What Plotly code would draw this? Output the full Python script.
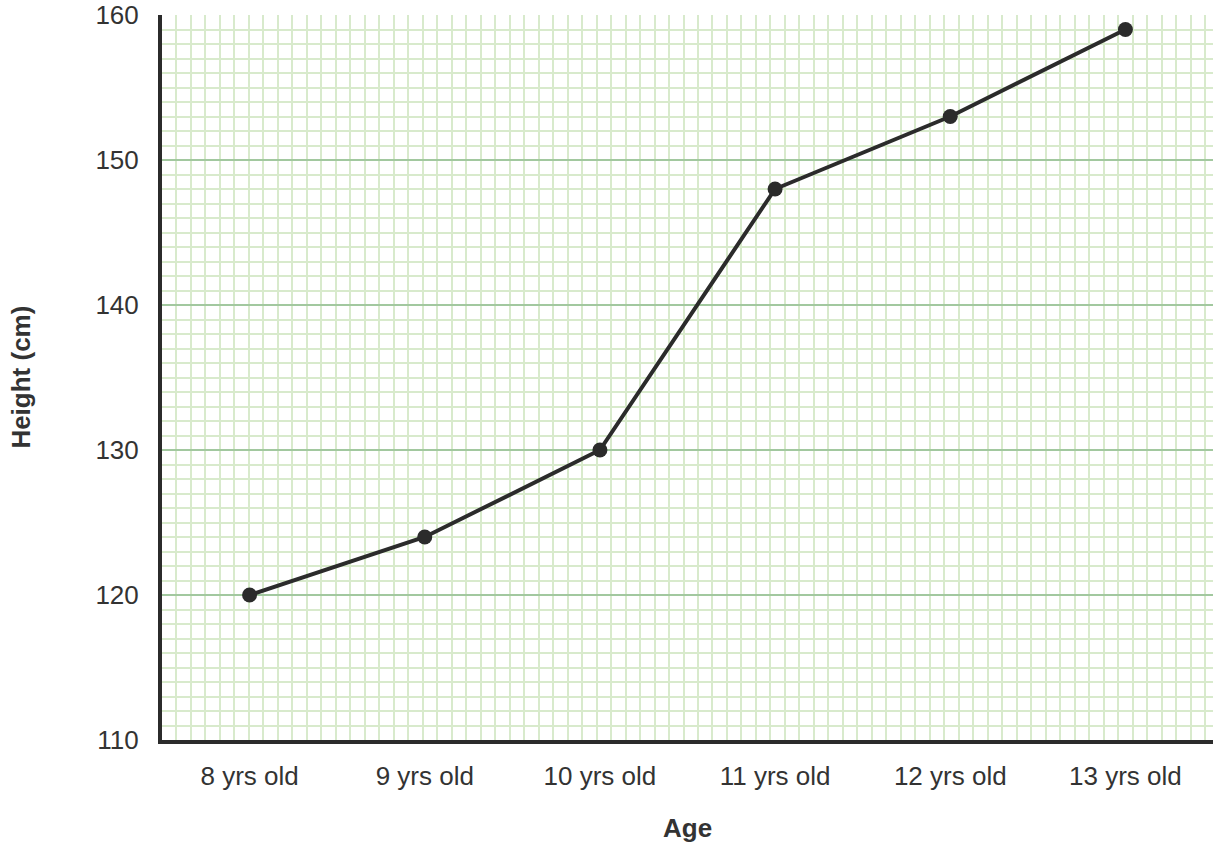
import plotly.graph_objects as go

# data
ages = ['8 yrs old', '9 yrs old', '10 yrs old', '11 yrs old', '12 yrs old', '13 yrs old']
heights = [120, 124, 130, 148, 153, 159]

x_pos = list(range(len(ages)))

ink = '#2b2b2b'
major_grid = '#a2c89f'
minor_grid = '#d8eacc'

fig = go.Figure()
fig.add_trace(go.Scatter(
    x=x_pos, y=heights, mode='lines+markers',
    line=dict(color=ink, width=4),
    marker=dict(color=ink, size=15),
    hoverinfo='x+y', showlegend=False,
))

fig.update_layout(
    width=1220, height=847,
    margin=dict(l=162, r=7, t=15, b=107),
    plot_bgcolor='white', paper_bgcolor='white',
    font=dict(family='Liberation Sans, Arial, sans-serif', size=26, color='#333333'),
    xaxis=dict(
        range=[-0.5, 5.5], automargin=False,
        tickvals=x_pos, ticktext=ages,
        showgrid=False, zeroline=False,
        showline=True, linewidth=4, linecolor=ink,
        ticks='', ticklabelstandoff=10,
        # square graph-paper cells, same size as 1 cm on the y axis
        minor=dict(dtick=0.0827, tick0=-0.5, showgrid=True, gridcolor=minor_grid, gridwidth=2),
    ),
    # empty top axis, only used to draw the green line at 160
    xaxis2=dict(
        overlaying='x', side='top', range=[-0.5, 5.5],
        showline=True, linecolor=major_grid, linewidth=2,
        showgrid=False, zeroline=False, showticklabels=False, ticks='',
    ),
    yaxis=dict(
        range=[110, 160], dtick=10, automargin=False,
        ticklabeloverflow='allow',
        showgrid=True, gridcolor=major_grid, gridwidth=2,
        zeroline=False,
        showline=True, linewidth=4, linecolor=ink,
        ticks='', ticklabelstandoff=14,
        minor=dict(dtick=1, showgrid=True, gridcolor=minor_grid, gridwidth=2),
    ),
)

# axis titles
fig.add_annotation(text='<b>Age</b>', xref='paper', yref='paper', x=0.5, y=-0.121,
                   showarrow=False, yanchor='middle')
fig.add_annotation(text='<b>Height (cm)</b>', xref='paper', yref='paper', x=-0.135, y=0.5,
                   showarrow=False, textangle=-90, xanchor='center')

# drop the default body margin so the figure sits at the window's corner
fig.write_html("out.html", config={'displayModeBar': False},
               post_script="document.body.style.margin='0';")
